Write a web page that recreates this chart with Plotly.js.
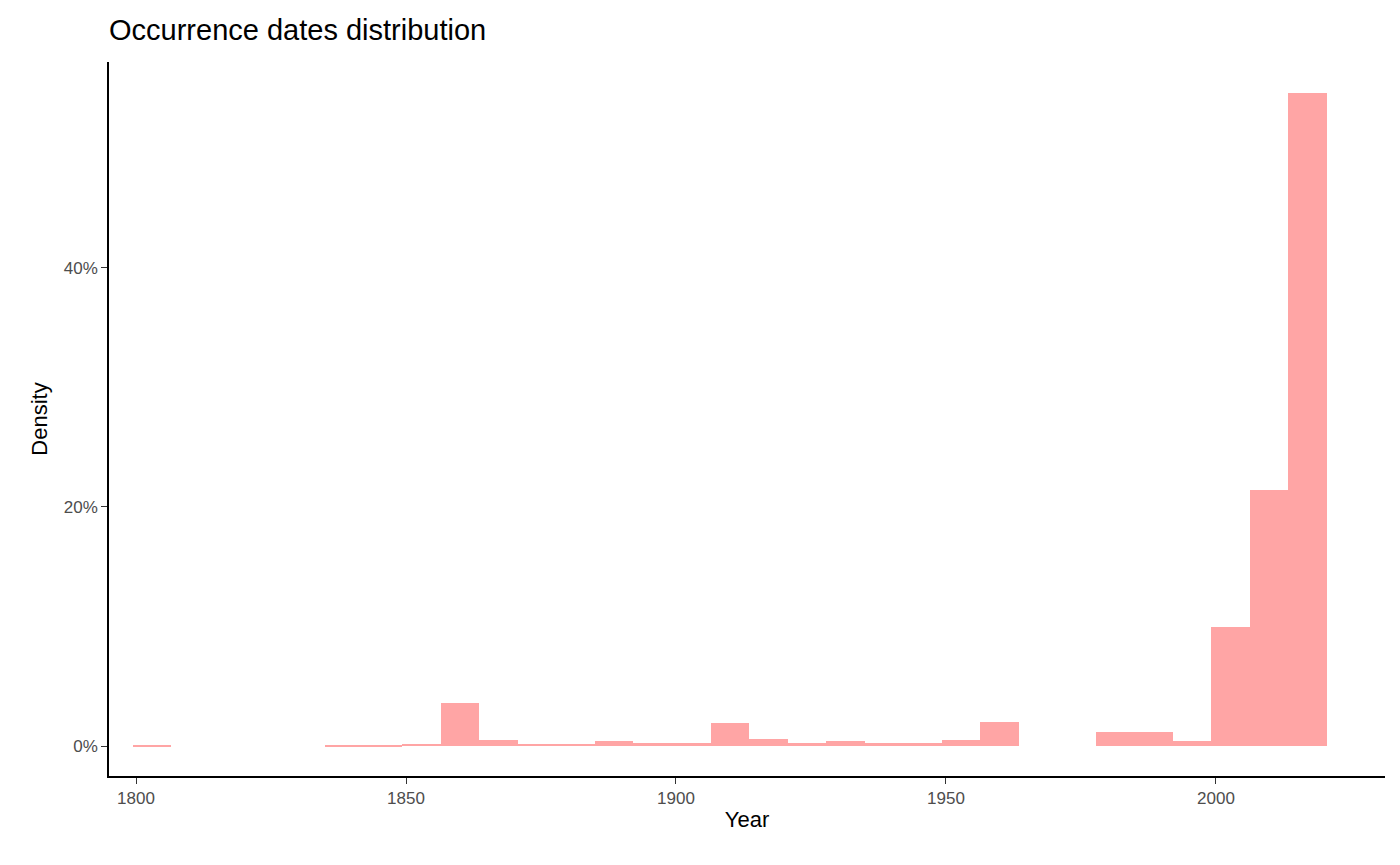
<!DOCTYPE html>
<html>
<head>
<meta charset="utf-8">
<script src="https://cdn.plot.ly/plotly-3.0.1.min.js"></script>
<style>body{margin:0;background:#fff}</style>
</head>
<body>
<div id="chart" style="width:1400px;height:865px"></div>
<script>
// histogram bins (left edge of first bin, width in years)
var binStart = 1799.44;
var binWidth = 7.13;
var density = [0.0005, 0, 0, 0, 0, 0.0005, 0.0005, 0.002, 0.036, 0.005, 0.002, 0.002, 0.004, 0.0025,
  0.0025, 0.019, 0.006, 0.0025, 0.004, 0.0025, 0.0025, 0.005, 0.020, 0, 0, 0.012, 0.012, 0.004,
  0.100, 0.214, 0.546];

var centers = density.map(function (d, i) { return binStart + binWidth * (i + 0.5); });

var trace = {
  type: 'bar',
  x: centers,
  y: density,
  width: binWidth,
  marker: {color: 'rgb(255,165,165)', line: {width: 0}},
  hoverinfo: 'x+y'
};

var layout = {
  width: 1400, height: 865,
  margin: {l: 109, r: 15, t: 62, b: 89},
  paper_bgcolor: '#fff', plot_bgcolor: '#fff',
  font: {family: 'Liberation Sans, Arial, sans-serif'},
  title: {text: 'Occurrence dates distribution', x: 109 / 1400, xanchor: 'left',
    y: 30 / 865 > 0 ? 1 - 30 / 865 : 0.965, yanchor: 'middle',
    font: {size: 29, color: '#000'}},
  bargap: 0,
  showlegend: false,
  xaxis: {
    range: [1795, 2031.3], tickvals: [1800, 1850, 1900, 1950, 2000],
    showgrid: false, zeroline: false, showline: true, linecolor: '#000', linewidth: 1.5,
    ticks: 'outside', ticklen: 6, tickcolor: '#333',
    tickfont: {size: 17, color: '#4d4d4d'},
    title: {text: 'Year', font: {size: 22, color: '#000'}, standoff: 4}
  },
  yaxis: {
    range: [-0.025, 0.572], tickvals: [0, 0.2, 0.4], tickformat: '.0%',
    showgrid: false, zeroline: false, showline: true, linecolor: '#000', linewidth: 1.5,
    ticks: 'outside', ticklen: 6, tickcolor: '#333',
    tickfont: {size: 17, color: '#4d4d4d'},
    title: {text: 'Density', font: {size: 22, color: '#000'}, standoff: 10}
  }
};

Plotly.newPlot('chart', [trace], layout, {displayModeBar: false});
</script>
</body>
</html>
